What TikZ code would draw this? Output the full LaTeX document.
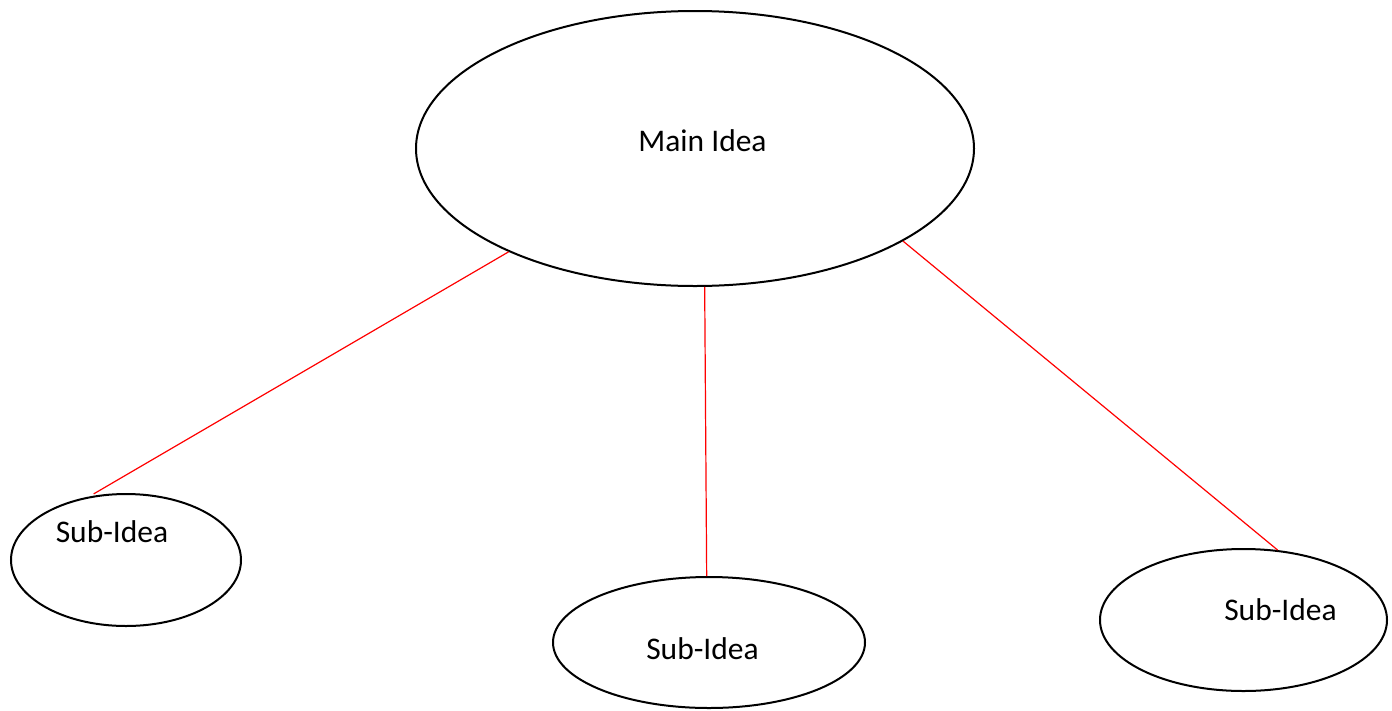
\documentclass[tikz,border=0pt]{standalone}
\usepackage{fontspec}
\setmainfont{Carlito}
\usepackage{tikz}
\usetikzlibrary{shapes.geometric}
\definecolor{LinkRed}{HTML}{FF0000}
\definecolor{IdeaBlack}{gray}{0.0}

\begin{document}
\begin{tikzpicture}[x=1pt,y=-1pt, every node/.style={font=\fontsize{31.5}{38}\selectfont},
  idea/.style={ellipse, draw=IdeaBlack, line width=2pt, inner sep=0pt},
  tag/.style={anchor=base, inner sep=0pt},
  link/.style={draw=LinkRed, line width=1.2pt}]
  \useasboundingbox (0,0) rectangle (1392,710);
  \node[idea, minimum width=558, minimum height=275] (main) at (695,148.5) {};
  \node[idea, minimum width=230, minimum height=132] (subleft) at (126,560) {};
  \node[idea, minimum width=312, minimum height=131] (submid) at (709,642.5) {};
  \node[idea, minimum width=287, minimum height=142] (subright) at (1243.5,620) {};
  \node[tag] (mainlabel) at (702.5,151) {Main Idea};
  \node[tag] (leftlabel) at (112,542) {Sub-Idea};
  \node[tag] (midlabel) at (702.5,659) {Sub-Idea};
  \node[tag] (rightlabel) at (1280.5,620) {Sub-Idea};
  \draw[link, shorten >=5pt] (main.209) -- (subleft.120.5);
  \draw[link] (main.274.6) -- (submid.92.7);
  \draw[link] (main.336.4) -- (subright.64.4);
\end{tikzpicture}
\end{document}
